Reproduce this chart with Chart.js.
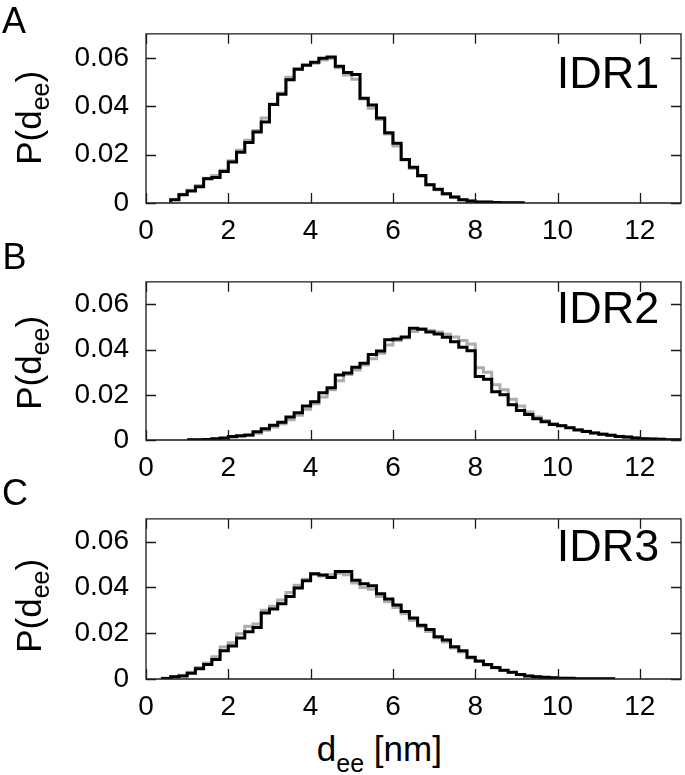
<!DOCTYPE html>
<html><head><meta charset="utf-8">
<script src="https://cdn.jsdelivr.net/npm/chart.js@4.4.0/dist/chart.umd.min.js"></script>
<style>
html,body{margin:0;padding:0;background:#fff;}
body{width:685px;height:775px;position:relative;overflow:hidden;font-family:"Liberation Sans",Arial,Helvetica,sans-serif;color:#000;}
canvas{position:absolute;left:0;}
.lbl{position:absolute;line-height:1;white-space:nowrap;}
.sub{position:relative;}
.rot{position:absolute;left:0;top:0;line-height:1;white-space:nowrap;transform-origin:0 0;}
</style></head><body>
<canvas id="cA" width="685" height="248" style="top:0px"></canvas>
<canvas id="cB" width="685" height="237" style="top:248px"></canvas>
<canvas id="cC" width="685" height="239" style="top:485px"></canvas>

<div class="lbl" style="left:2px;top:2.5px;font-size:36px;">A</div>
<div class="lbl" style="left:2.5px;top:238.5px;font-size:36px;">B</div>
<div class="lbl" style="left:2px;top:475px;font-size:36px;">C</div>

<div class="lbl" style="left:556.8px;top:49.6px;font-size:45px;">IDR1</div>
<div class="lbl" style="left:556.8px;top:285.2px;font-size:45px;">IDR2</div>
<div class="lbl" style="left:556.8px;top:522.9px;font-size:45px;">IDR3</div>

<div class="rot" style="font-size:35px;transform:translate(11px,164.8px) rotate(-90deg);">P(d<span class="sub" style="font-size:25px;top:8px;">ee</span>)</div>
<div class="rot" style="font-size:35px;transform:translate(11px,409.8px) rotate(-90deg);">P(d<span class="sub" style="font-size:25px;top:8px;">ee</span>)</div>
<div class="rot" style="font-size:35px;transform:translate(11px,652.8px) rotate(-90deg);">P(d<span class="sub" style="font-size:25px;top:8px;">ee</span>)</div>

<div class="lbl" style="left:316.8px;top:731.4px;font-size:35px;">d<span class="sub" style="font-size:25px;top:11px;">ee</span> [nm]</div>

<script>
// ---- data ----
const binWidth = 0.2;
const xTickValues = [0, 2, 4, 6, 8, 10, 12];
const xTickLabels = ['0', '2', '4', '6', '8', '10', '12'];
const yTickValues = [0, 0.02, 0.04, 0.06];
const yTickLabels = ['0', '0.02', '0.04', '0.06'];

const startA = 0.6;
const blackA = [0.0003,0.0013,0.0034,0.0050,0.0067,0.0100,0.0105,0.0130,0.0170,0.0210,0.0250,0.0294,0.0335,0.0408,0.0450,0.0510,0.0553,0.0570,0.0582,0.0599,0.0604,0.0566,0.0540,0.0532,0.0433,0.0405,0.0352,0.0291,0.0247,0.0180,0.0148,0.0114,0.0076,0.0057,0.0038,0.0025,0.0013,0.0008,0.0004,0.0004,0.0002,0.0001,0.0001];
const grayA  = [0.0003,0.0014,0.0036,0.0053,0.0072,0.0102,0.0114,0.0136,0.0175,0.0218,0.0260,0.0300,0.0352,0.0410,0.0455,0.0520,0.0555,0.0572,0.0578,0.0592,0.0598,0.0560,0.0530,0.0512,0.0430,0.0392,0.0345,0.0285,0.0236,0.0178,0.0143,0.0110,0.0075,0.0055,0.0037,0.0024,0.0013,0.0008,0.0004,0.0003,0.0002,0.0001,0.0001];

const startB = 1.0;
const blackB = [0.0001,0.0001,0.0001,0.0002,0.0005,0.0009,0.0016,0.0019,0.0022,0.0037,0.0050,0.0065,0.0079,0.0102,0.0121,0.0150,0.0169,0.0209,0.0231,0.0288,0.0296,0.0322,0.0340,0.0378,0.0394,0.0444,0.0447,0.0456,0.0494,0.0490,0.0478,0.0469,0.0455,0.0435,0.0410,0.0395,0.0281,0.0269,0.0213,0.0200,0.0156,0.0131,0.0113,0.0094,0.0081,0.0069,0.0063,0.0054,0.0044,0.0038,0.0031,0.0025,0.0021,0.0016,0.0013,0.0009,0.0006,0.0004,0.0003,0.0001];
const grayB  = [0.0001,0.0001,0.0001,0.0001,0.0003,0.0007,0.0012,0.0017,0.0020,0.0030,0.0043,0.0057,0.0072,0.0090,0.0110,0.0136,0.0160,0.0190,0.0222,0.0262,0.0290,0.0310,0.0332,0.0360,0.0384,0.0420,0.0440,0.0452,0.0480,0.0492,0.0485,0.0478,0.0468,0.0456,0.0440,0.0425,0.0320,0.0300,0.0245,0.0222,0.0180,0.0150,0.0124,0.0102,0.0086,0.0073,0.0064,0.0055,0.0046,0.0039,0.0032,0.0026,0.0021,0.0017,0.0013,0.0009,0.0006,0.0004,0.0003,0.0001];

const startC = 0.4;
const blackC = [0.0001,0.0002,0.0010,0.0013,0.0025,0.0045,0.0063,0.0085,0.0123,0.0144,0.0179,0.0206,0.0225,0.0288,0.0306,0.0329,0.0360,0.0398,0.0429,0.0460,0.0454,0.0444,0.0470,0.0470,0.0431,0.0416,0.0408,0.0373,0.0350,0.0323,0.0295,0.0266,0.0235,0.0216,0.0185,0.0170,0.0141,0.0123,0.0095,0.0079,0.0063,0.0050,0.0038,0.0029,0.0020,0.0013,0.0010,0.0008,0.0005,0.0003,0.0003,0.0001,0.0001,0.0001,0.0001];
const grayC  = [0.0001,0.0003,0.0011,0.0016,0.0030,0.0050,0.0070,0.0097,0.0140,0.0158,0.0198,0.0230,0.0240,0.0300,0.0318,0.0345,0.0378,0.0410,0.0436,0.0458,0.0450,0.0455,0.0462,0.0455,0.0420,0.0400,0.0392,0.0360,0.0338,0.0312,0.0285,0.0257,0.0228,0.0208,0.0180,0.0162,0.0136,0.0118,0.0092,0.0076,0.0061,0.0048,0.0037,0.0028,0.0019,0.0013,0.0010,0.0007,0.0005,0.0003,0.0002,0.0001,0.0001,0.0001,0.0001];

// ---- build ----
function toSteps(start, vals) {
  const pts = vals.map((v, i) => ({ x: +(start + i * binWidth).toFixed(2), y: v }));
  pts.push({ x: +(start + vals.length * binWidth).toFixed(2), y: vals[vals.length - 1] });
  return pts;
}

const framePlugin = {
  id: 'frame',
  afterDatasetsDraw(chart) {
    const { ctx, chartArea: a, scales: { x, y } } = chart;
    ctx.save();
    ctx.strokeStyle = '#1a1a1a';
    ctx.lineWidth = 1.3;
    ctx.beginPath();
    ctx.rect(a.left, a.top, a.right - a.left, a.bottom - a.top);
    const tl = 10;
    xTickValues.forEach(v => {
      const px = Math.round(x.getPixelForValue(v)) + 0.5;
      ctx.moveTo(px, a.bottom); ctx.lineTo(px, a.bottom - tl);
      ctx.moveTo(px, a.top); ctx.lineTo(px, a.top + tl);
    });
    yTickValues.forEach(v => {
      const py = Math.round(y.getPixelForValue(v)) + 0.5;
      ctx.moveTo(a.left, py); ctx.lineTo(a.left + tl, py);
      ctx.moveTo(a.right, py); ctx.lineTo(a.right - tl, py);
    });
    ctx.stroke();
    ctx.restore();
  }
};

const tickFont = { family: '"Liberation Sans", Arial, sans-serif', size: 28 };

function makePanel(id, padTop, start, black, gray) {
  new Chart(document.getElementById(id), {
    type: 'line',
    data: {
      datasets: [
        { data: toSteps(start, black), borderColor: '#000000', borderWidth: 3, stepped: 'after',
          pointRadius: 0, fill: false, borderJoinStyle: 'miter', borderCapStyle: 'butt', order: 0 },
        { data: toSteps(start, gray), borderColor: '#adadad', borderWidth: 3, stepped: 'after',
          pointRadius: 0, fill: false, borderJoinStyle: 'miter', borderCapStyle: 'butt', order: 1 }
      ]
    },
    options: {
      responsive: false,
      animation: false,
      events: [],
      layout: { padding: { top: padTop, right: 4, left: 0, bottom: 0 } },
      plugins: { legend: { display: false }, tooltip: { enabled: false } },
      scales: {
        x: {
          type: 'linear', min: 0, max: 13,
          grid: { display: false, drawTicks: false },
          border: { display: false },
          afterBuildTicks: s => { s.ticks = xTickValues.map(v => ({ value: v })); },
          afterFit: s => { s.height = 45; },
          ticks: {
            autoSkip: false, maxRotation: 0, minRotation: 0, padding: 11,
            color: '#000', font: tickFont,
            callback: (v) => { const i = xTickValues.indexOf(v); return i >= 0 ? xTickLabels[i] : ''; }
          }
        },
        y: {
          type: 'linear', min: 0, max: 0.07,
          grid: { display: false, drawTicks: false },
          border: { display: false },
          afterBuildTicks: s => { s.ticks = yTickValues.map(v => ({ value: v })); },
          afterFit: s => { s.width = 146; },
          ticks: {
            autoSkip: false, padding: 17,
            color: '#000', font: tickFont,
            callback: (v) => { const i = yTickValues.findIndex(t => Math.abs(t - v) < 1e-9); return i >= 0 ? yTickLabels[i] : ''; }
          }
        }
      }
    },
    plugins: [framePlugin]
  });
}

makePanel('cA', 20, startA, blackA, grayA);   // plot 20..203
makePanel('cB', 7, startB, blackB, grayB);    // plot 255..440
makePanel('cC', 7, startC, blackC, grayC);    // plot 492..679
</script>
</body></html>
